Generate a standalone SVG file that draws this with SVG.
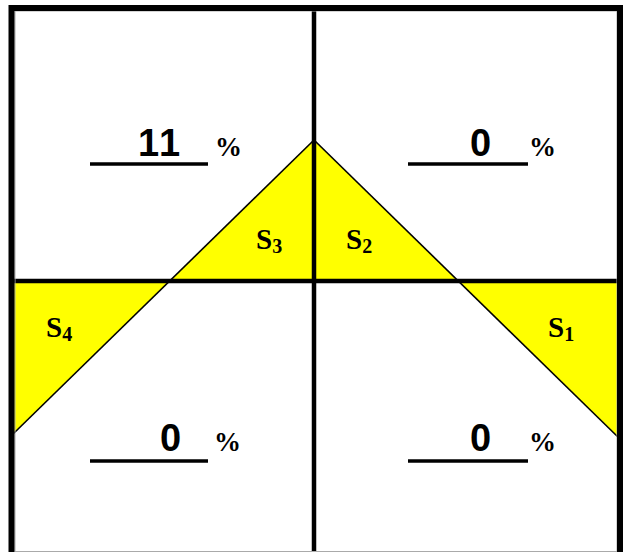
<svg xmlns="http://www.w3.org/2000/svg" width="629" height="552" viewBox="0 0 629 552">
<style>
.num{font-family:"Liberation Sans",Arial,sans-serif;font-weight:bold;font-size:38px;fill:#000}
.pct{font-family:"Liberation Serif","Times New Roman",serif;font-weight:bold;font-size:27px;fill:#000}
.lbl{font-family:"Liberation Serif","Times New Roman",serif;font-weight:bold;font-size:29px;fill:#000}
.sub{font-size:20px}
.ul{stroke:#000;stroke-width:3.5}
.yel{fill:#ffff00}
.diag{stroke:#000;stroke-width:1.6;fill:none}
.grid{stroke:#000;stroke-width:4.5;fill:none}
</style>
<rect x="0" y="0" width="629" height="552" fill="#fff"/>
<g id="areas">
<polygon class="yel" points="314,140 169.7,281 458.3,281"/>
<polygon class="yel" points="12,281 169.7,281 12,435"/>
<polygon class="yel" points="458.3,281 620,281 620,439"/>
</g>
<g id="connectors">
<line class="diag" x1="314" y1="140" x2="12" y2="435"/>
<line class="diag" x1="314" y1="140" x2="620" y2="439"/>
<line class="grid" x1="12" y1="281" x2="620" y2="281"/>
<line class="grid" x1="314" y1="8" x2="314" y2="560"/>
</g>
<g id="frame">
<rect x="15" y="11" width="602" height="540.5" fill="none" stroke="#aaa" stroke-width="1"/>
<path d="M11.5,560 V8 H620 V560" fill="none" stroke="#000" stroke-width="6"/>
</g>
<g id="q2">
<line class="ul" x1="90" y1="164" x2="208" y2="164"/>
<text class="num" x="138" y="156" letter-spacing="2">11</text>
<text class="pct" x="215" y="156">%</text>
</g>
<g id="q1">
<line class="ul" x1="408" y1="164" x2="528" y2="164"/>
<text class="num" x="470" y="156">0</text>
<text class="pct" x="529" y="156">%</text>
</g>
<g id="q3">
<line class="ul" x1="90" y1="461" x2="208" y2="461"/>
<text class="num" x="160" y="451">0</text>
<text class="pct" x="214" y="451">%</text>
</g>
<g id="q4">
<line class="ul" x1="408" y1="461" x2="528" y2="461"/>
<text class="num" x="470" y="451">0</text>
<text class="pct" x="529" y="451">%</text>
</g>
<g id="s1"><text class="lbl" x="548" y="337">S<tspan class="sub" dy="4">1</tspan></text></g>
<g id="s2"><text class="lbl" x="346" y="249">S<tspan class="sub" dy="4">2</tspan></text></g>
<g id="s3"><text class="lbl" x="256" y="249">S<tspan class="sub" dy="4">3</tspan></text></g>
<g id="s4"><text class="lbl" x="46" y="337">S<tspan class="sub" dy="4">4</tspan></text></g>
</svg>
